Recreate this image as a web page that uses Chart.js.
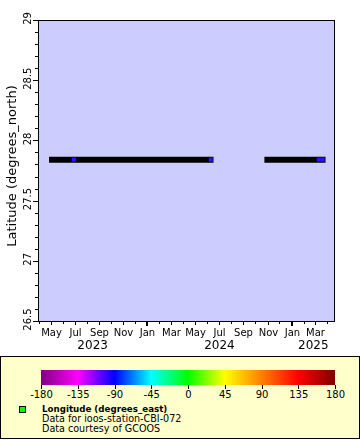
<!DOCTYPE html>
<html><head><meta charset="utf-8">
<script src="https://cdn.jsdelivr.net/npm/chart.js@4.4.1/dist/chart.umd.min.js"></script>
<style>
html,body{margin:0;padding:0;background:#fff;width:360px;height:440px;overflow:hidden;font-family:"DejaVu Sans",sans-serif;}
#wrap{position:absolute;left:0;top:0;width:360px;height:355px;}
#legend{position:absolute;left:0;top:356px;width:358px;height:81px;border:1px solid #000;background:#ffffcc;}
#cbar{position:absolute;left:40px;top:13px;width:294px;height:15px;}
.ct{position:absolute;top:28px;width:1px;height:4px;background:#000;}
.cl{position:absolute;top:32px;font-size:10px;line-height:12px;transform:translateX(-50%);white-space:nowrap;color:#000;}
#sw{position:absolute;left:18px;top:49px;width:5px;height:5px;background:#00ff00;border:1px solid #000;}
.lt{position:absolute;left:41px;font-size:9.6px;line-height:10px;white-space:nowrap;color:#000;}
</style>
</head><body>
<div id="wrap"><canvas id="c" width="360" height="355"></canvas></div>
<div id="legend">
  <div id="cbar"></div>
  <div id="sw"></div>
  <div class="lt" style="top:47px;font-weight:bold;font-size:8.7px;">Longitude (degrees_east)</div>
  <div class="lt" style="top:57px;">Data for ioos-station-CBI-072</div>
  <div class="lt" style="top:67px;">Data courtesy of GCOOS</div>
</div>
<script>
// ---- data ----
const latitude = 27.84;
const trackStart = ['2023-04-27', '2024-10-24'];
const trackEnd   = ['2024-06-17', '2025-03-28'];
const markerDates = ['2023-06-29', '2024-06-10', '2025-03-11', '2025-03-21'];
const xMinDate = '2023-03-30';
const xMaxDate = '2025-04-21';
const yMin = 26.5, yMax = 29;
const yMajorTicks = [26.5, 27, 27.5, 28, 28.5, 29];
const yMinorStep = 0.1;
const monthLabels = ['Jan','Feb','Mar','Apr','May','Jun','Jul','Aug','Sep','Oct','Nov','Dec'];
const yearLabels = ['2023', '2024', '2025'];
const cbarTicks = [-180, -135, -90, -45, 0, 45, 90, 135, 180];
const cbarColors = ['#800080','#ff00ff','#0000ff','#00ffff','#00ff00','#ffff00','#ff8000','#ff0000','#800000'];

const t = s => Date.parse(s + 'T00:00:00Z');

// track as a broken line
const trackPts = [];
trackStart.forEach((s, i) => {
  if (i > 0) trackPts.push({x: t(s), y: null});
  trackPts.push({x: t(s), y: latitude});
  trackPts.push({x: t(trackEnd[i]), y: latitude});
});
const markerPts = markerDates.map(d => ({x: t(d), y: latitude}));

const axisPlugin = {
  id: 'erddapAxes',
  beforeDatasetsDraw(chart) {
    const {ctx, chartArea: a} = chart;
    ctx.save();
    ctx.fillStyle = '#ccccff';
    ctx.fillRect(a.left, a.top, a.right - a.left, a.bottom - a.top);
    ctx.restore();
  },
  afterDraw(chart) {
    const {ctx, chartArea: a, scales} = chart;
    const xs = scales.x, ys = scales.y;
    ctx.save();
    ctx.strokeStyle = '#000';
    ctx.fillStyle = '#000';
    ctx.lineWidth = 1;
    ctx.strokeRect(a.left + 0.5, a.top + 0.5, a.right - a.left - 1, a.bottom - a.top);
    // y ticks
    const n = Math.round((yMax - yMin) / yMinorStep);
    for (let i = 0; i <= n; i++) {
      const v = yMin + i * yMinorStep;
      const py = Math.round(ys.getPixelForValue(v)) + 0.5;
      const major = yMajorTicks.some(m => Math.abs(m - v) < 1e-6);
      ctx.beginPath();
      ctx.moveTo(a.left, py);
      ctx.lineTo(a.left - (major ? 5 : 3), py);
      ctx.stroke();
    }
    ctx.font = '10px "DejaVu Sans"';
    ctx.textAlign = 'center';
    ctx.textBaseline = 'middle';
    yMajorTicks.forEach(v => {
      const py = ys.getPixelForValue(v);
      ctx.save();
      ctx.translate(28, py - 1.5);
      ctx.rotate(-Math.PI / 2);
      ctx.fillText(String(v), 0, 0);
      ctx.restore();
    });
    // y title
    ctx.save();
    ctx.font = '13px "DejaVu Sans"';
    ctx.translate(13, 166);
    ctx.rotate(-Math.PI / 2);
    ctx.fillText('Latitude (degrees_north)', 0, 0);
    ctx.restore();
    // x ticks (monthly)
    const d0 = new Date(xs.min), d1 = new Date(xs.max);
    let y = d0.getUTCFullYear(), m = d0.getUTCMonth() + 1;
    ctx.font = '10px "DejaVu Sans"';
    while (true) {
      if (m > 11) { m = 0; y++; }
      const ms = Date.UTC(y, m, 1);
      if (ms > xs.max) break;
      const px = Math.round(xs.getPixelForValue(ms));
      const labeled = m % 2 === 0;
      if (m === 0) {
        ctx.fillRect(px - 1, a.bottom, 2, 5);
      } else {
        ctx.fillRect(px, a.bottom, 1, labeled ? 4 : 3);
      }
      if (labeled) ctx.fillText(monthLabels[m], px + 0.5, 333);
      m++;
    }
    // year labels at middle of visible part of each year
    ctx.font = '12px "DejaVu Sans"';
    yearLabels.forEach(yl => {
      const yy = +yl;
      const s = Math.max(Date.UTC(yy, 0, 1), xs.min);
      const e = Math.min(Date.UTC(yy + 1, 0, 1), xs.max);
      ctx.fillText(yl, xs.getPixelForValue((s + e) / 2), 346);
    });
    ctx.restore();
  }
};

new Chart(document.getElementById('c'), {
  type: 'line',
  data: {
    datasets: [
      {
        data: markerPts, showLine: false, pointStyle: 'rect',
        pointRadius: 2.9, pointBackgroundColor: '#2a14f5', pointBorderWidth: 0, order: 0
      },
      {
        data: trackPts, borderColor: '#000', borderWidth: 6, pointRadius: 0,
        borderCapStyle: 'butt', spanGaps: false, order: 1
      }
    ]
  },
  options: {
    responsive: false, animation: false, devicePixelRatio: 1,
    layout: {padding: {left: 38, top: 20, right: 25, bottom: 34}},
    plugins: {legend: {display: false}, tooltip: {enabled: false}},
    scales: {
      x: {type: 'linear', display: false, min: t(xMinDate), max: t(xMaxDate)},
      y: {type: 'linear', display: false, min: yMin, max: yMax}
    }
  },
  plugins: [axisPlugin]
});

// colour bar legend
const cbar = document.getElementById('cbar');
const stops = cbarColors.map((c, i) => c + ' ' + (i / (cbarColors.length - 1) * 100) + '%').join(',');
cbar.style.background = 'linear-gradient(to right,' + stops + ')';
const leg = document.getElementById('legend');
cbarTicks.forEach((v, i) => {
  const x = 40 + (v - cbarTicks[0]) / (cbarTicks[cbarTicks.length - 1] - cbarTicks[0]) * 294;
  const tk = document.createElement('div');
  tk.className = 'ct'; tk.style.left = Math.round(x) + 'px';
  leg.appendChild(tk);
  const lb = document.createElement('div');
  lb.className = 'cl'; lb.style.left = (x + 0.5) + 'px'; lb.textContent = String(v);
  leg.appendChild(lb);
});
</script>
</body></html>
